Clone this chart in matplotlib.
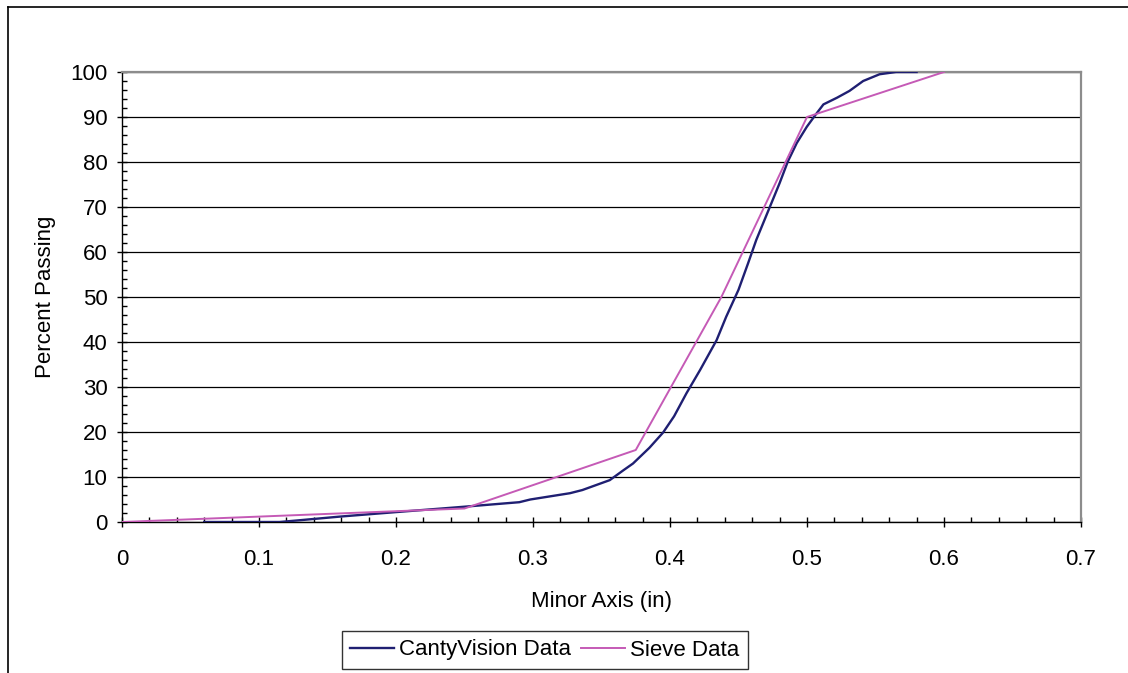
import matplotlib.pyplot as plt
from matplotlib.lines import Line2D
from matplotlib.ticker import MultipleLocator

plt.rcParams['font.family'] = ['Liberation Sans', 'DejaVu Sans']

# image-analysis size distribution (minor axis, in) vs cumulative percent passing
canty_x = [0.06, 0.115, 0.13, 0.159, 0.2, 0.25, 0.29, 0.298, 0.327, 0.336,
           0.346, 0.356, 0.366, 0.373, 0.385, 0.395, 0.403, 0.412, 0.422,
           0.434, 0.441, 0.45, 0.457, 0.463, 0.473, 0.48, 0.486, 0.4925,
           0.4998, 0.506, 0.512, 0.522, 0.531, 0.541, 0.553, 0.565, 0.58]
canty_y = [0, 0, 0.4, 1.2, 2.2, 3.4, 4.4, 5.0, 6.4, 7.1,
           8.2, 9.3, 11.5, 13.0, 16.5, 19.9, 23.5, 28.6, 33.8,
           40.4, 45.6, 51.6, 57.5, 62.7, 70.1, 75.3, 80.1, 84.2,
           87.8, 90.4, 92.8, 94.3, 95.8, 98.0, 99.5, 100, 100]

# sieve analysis
sieve_x = [0, 0.25, 0.375, 0.4375, 0.5, 0.6]
sieve_y = [0, 3, 16, 50, 90, 100]

x_ticks = [0, 0.1, 0.2, 0.3, 0.4, 0.5, 0.6, 0.7]
x_labels = ['0', '0.1', '0.2', '0.3', '0.4', '0.5', '0.6', '0.7']
y_ticks = list(range(0, 101, 10))

navy = '#1f1f72'
pink = '#c55ab6'
fs = 16

fig = plt.figure(figsize=(11.28, 6.73), dpi=100)
ax = fig.add_axes([122 / 1128, 1 - 522 / 673, 959 / 1128, 450 / 673])

ax.plot(canty_x, canty_y, color=navy, lw=1.7, label='CantyVision Data', zorder=3)
ax.plot(sieve_x, sieve_y, color=pink, lw=1.4, label='Sieve Data', zorder=3)

ax.set_xlim(0, 0.7)
ax.set_ylim(0, 100)
ax.set_xticks(x_ticks)
ax.set_xticklabels(x_labels)
ax.set_yticks(y_ticks)
ax.set_yticklabels([str(v) for v in y_ticks])
ax.xaxis.set_minor_locator(MultipleLocator(0.02))
ax.yaxis.set_minor_locator(MultipleLocator(2))

ax.yaxis.grid(True, color='black', lw=0.9)
ax.set_axisbelow(True)

ax.tick_params(which='major', direction='inout', length=7, width=1,
               labelsize=fs, color='black')
ax.tick_params(which='minor', direction='in', length=3.5, width=1, color='black')
ax.tick_params(axis='x', which='major', pad=16)
ax.tick_params(axis='y', which='major', pad=7)

for side in ['left', 'bottom']:
    ax.spines[side].set_color('black')
    ax.spines[side].set_linewidth(1)
for side in ['top', 'right']:
    ax.spines[side].set_color('#8c8c8c')
    ax.spines[side].set_linewidth(1.6)

ax.set_xlabel('Minor Axis (in)', fontsize=fs, labelpad=15)
ax.set_ylabel('Percent Passing', fontsize=fs, labelpad=10)

leg = fig.legend(loc='center', bbox_to_anchor=(545 / 1128, 1 - 650 / 673),
                 ncol=2, fontsize=fs, frameon=True, fancybox=False,
                 handlelength=1.95, handletextpad=0.25, columnspacing=0.45,
                 borderpad=0.4, borderaxespad=0)
leg.get_frame().set_edgecolor('black')
leg.get_frame().set_linewidth(1)

# chart-area border (left and top edges fall inside the canvas)
fig.add_artist(Line2D([8 / 1128, 8 / 1128], [0, 1 - 7 / 673], color='black', lw=1.2))
fig.add_artist(Line2D([8 / 1128, 1], [1 - 7 / 673, 1 - 7 / 673], color='black', lw=1.2))

fig.savefig('out.png', dpi=100)
